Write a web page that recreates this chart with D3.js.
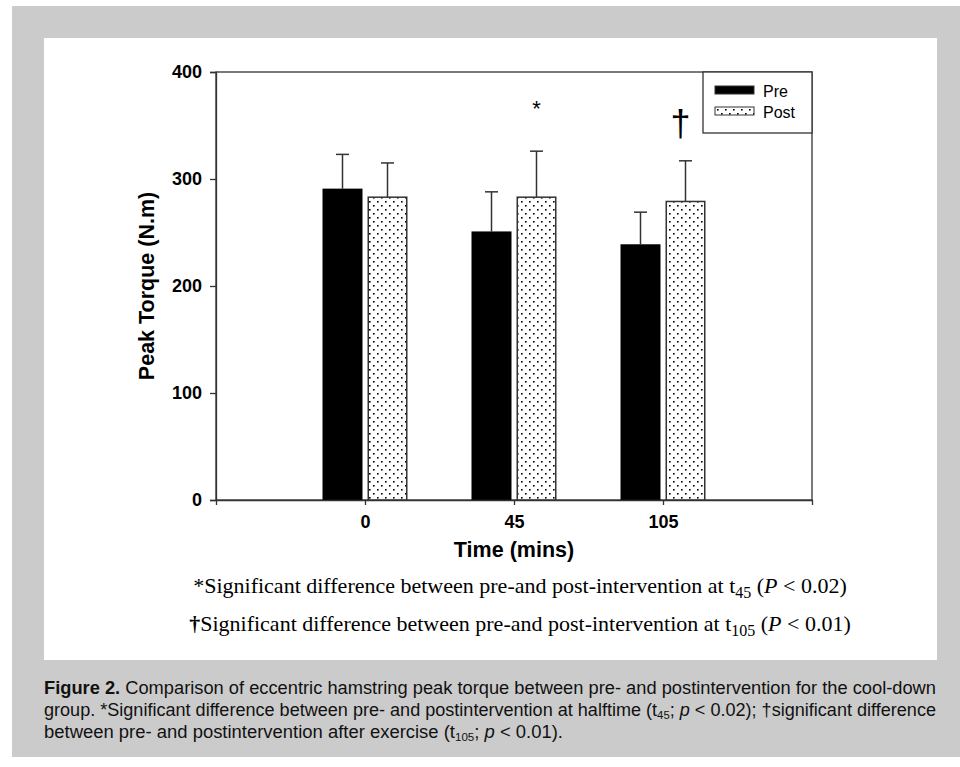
<!DOCTYPE html>
<html>
<head>
<meta charset="utf-8">
<script src="https://cdn.jsdelivr.net/npm/d3@7"></script>
<style>
  html, body { margin: 0; padding: 0; background: #fff; }
  svg { display: block; }
</style>
</head>
<body>
<div id="chart"></div>
<script>
const times = ["0", "45", "105"];
const series = ["Pre", "Post"];
const preMean = [291, 251, 239];
const preSD = [32, 37, 30];
const postMean = [283, 283, 279];
const postSD = [32, 43, 38];
const yTicks = [0, 100, 200, 300, 400];
const marks = [{ time: "45", symbol: "*" }, { time: "105", symbol: "\u2020" }];

const W = 960, H = 767;
const plot = { left: 216, right: 812, top: 72, bottom: 500 };

const svg = d3.select("#chart").append("svg")
  .attr("width", W).attr("height", H);

const defs = svg.append("defs");
const pat = defs.append("pattern")
  .attr("id", "dots")
  .attr("patternUnits", "userSpaceOnUse")
  .attr("width", 8).attr("height", 8);
pat.append("rect").attr("width", 8).attr("height", 8).attr("fill", "#fff");
pat.append("rect").attr("x", 1).attr("y", 1).attr("width", 1.6).attr("height", 1.6).attr("fill", "#000");
pat.append("rect").attr("x", 5).attr("y", 5).attr("width", 1.6).attr("height", 1.6).attr("fill", "#000");

// grey frame and white panel
svg.append("rect").attr("x", 12).attr("y", 6).attr("width", 948).attr("height", 751).attr("fill", "#cbcbcb");
svg.append("rect").attr("x", 44).attr("y", 38).attr("width", 893).attr("height", 622).attr("fill", "#fff");

const x = d3.scalePoint().domain(times).range([plot.left, plot.right]).padding(1);
const y = d3.scaleLinear().domain([0, 400]).range([plot.bottom, plot.top]);

const barW = 40, off = 22.5;
const rows = times.map((t, i) => ({ t, pre: preMean[i], preSD: preSD[i], post: postMean[i], postSD: postSD[i] }));

const g = svg.append("g");
const sans = "'Liberation Sans', Arial, sans-serif";

// plot box
g.append("rect")
  .attr("x", plot.left).attr("y", plot.top)
  .attr("width", plot.right - plot.left).attr("height", plot.bottom - plot.top)
  .attr("fill", "none").attr("stroke", "#333").attr("stroke-width", 1.3);

// error bars (drawn under bars)
function errBar(cx, m, sd) {
  g.append("line").attr("x1", cx).attr("x2", cx).attr("y1", y(m)).attr("y2", y(m + sd))
    .attr("stroke", "#333").attr("stroke-width", 1.5);
  g.append("line").attr("x1", cx - 6.5).attr("x2", cx + 6.5).attr("y1", y(m + sd)).attr("y2", y(m + sd))
    .attr("stroke", "#333").attr("stroke-width", 1.5);
}
rows.forEach(d => {
  errBar(x(d.t) - off, d.pre, d.preSD);
  errBar(x(d.t) + off, d.post, d.postSD);
});

g.selectAll(".pre").data(rows).join("rect")
  .attr("x", d => x(d.t) - off - barW / 2)
  .attr("y", d => y(d.pre))
  .attr("width", barW)
  .attr("height", d => y(0) - y(d.pre))
  .attr("fill", "#000");

g.selectAll(".post").data(rows).join("rect")
  .attr("x", d => x(d.t) + off - barW / 2 + 0.75)
  .attr("y", d => y(d.post))
  .attr("width", barW - 1.5)
  .attr("height", d => y(0) - y(d.post))
  .attr("fill", "url(#dots)")
  .attr("stroke", "#333").attr("stroke-width", 1.5);

// axes
const yAxis = g.append("g").attr("transform", `translate(${plot.left},0)`)
  .call(d3.axisLeft(y).tickValues(yTicks).tickSize(6).tickPadding(8));
const xAxis = g.append("g").attr("transform", `translate(0,${plot.bottom})`)
  .call(d3.axisBottom(x).tickSize(5).tickPadding(10));
[yAxis, xAxis].forEach(a => {
  a.select(".domain").attr("stroke", "#333").attr("stroke-width", 1.3);
  a.selectAll(".tick line").attr("stroke", "#333").attr("stroke-width", 1.3);
  a.selectAll("text").attr("fill", "#000")
    .style("font-family", sans)
    .style("font-weight", "bold").style("font-size", "18px");
});

g.append("text")
  .attr("transform", `translate(154,${(plot.top + plot.bottom) / 2}) rotate(-90)`)
  .attr("text-anchor", "middle")
  .style("font-family", sans)
  .style("font-weight", "bold").style("font-size", "21.5px")
  .text("Peak Torque (N.m)");

g.append("text")
  .attr("x", (plot.left + plot.right) / 2).attr("y", 557)
  .attr("text-anchor", "middle")
  .style("font-family", sans)
  .style("font-weight", "bold").style("font-size", "21.5px")
  .text("Time (mins)");

// significance marks
g.selectAll(".mark").data(marks).join("text")
  .attr("x", d => x(d.time) + off - (d.symbol === "*" ? 0 : 5))
  .attr("y", d => d.symbol === "*" ? 116 : 136)
  .attr("text-anchor", "middle")
  .style("font-family", sans)
  .style("font-size", d => d.symbol === "*" ? "22px" : "36px")
  .text(d => d.symbol);

// legend
const leg = g.append("g");
leg.append("rect").attr("x", 703).attr("y", plot.top).attr("width", plot.right - 703).attr("height", 61)
  .attr("fill", "#fff").attr("stroke", "#333").attr("stroke-width", 1.3);
series.forEach((s, i) => {
  leg.append("rect")
    .attr("x", 715).attr("y", 86 + i * 21).attr("width", 39).attr("height", 8)
    .attr("fill", i === 0 ? "#000" : "url(#dots)")
    .attr("stroke", "#333").attr("stroke-width", 1);
  leg.append("text")
    .attr("x", 763).attr("y", 97 + i * 21)
    .style("font-family", sans)
    .style("font-size", "16px")
    .text(s);
});

// footnotes
const fn = [
  { sym: "*", sub: "45", p: "0.02" },
  { sym: "\u2020", sub: "105", p: "0.01" }
];
fn.forEach((f, i) => {
  const t = g.append("text")
    .attr("x", 520).attr("y", 593 + i * 38)
    .attr("text-anchor", "middle")
    .style("font-family", "'Liberation Serif', 'Times New Roman', serif")
    .style("font-size", "22px");
  t.append("tspan").style("font-weight", i === 1 ? "bold" : "normal").text(f.sym);
  t.append("tspan").text("Significant difference between pre-and post-intervention at t");
  t.append("tspan").attr("dy", 5).style("font-size", "16px").text(f.sub);
  t.append("tspan").attr("dy", -5).text(" (");
  t.append("tspan").style("font-style", "italic").text("P");
  t.append("tspan").text(" < " + f.p + ")");
});

// caption
const cap = svg.append("g")
  .style("font-family", sans)
  .style("font-size", "17.5px").attr("fill", "#111");
const l1 = cap.append("text").attr("x", 44).attr("y", 694).attr("textLength", 892).attr("lengthAdjust", "spacingAndGlyphs");
l1.append("tspan").style("font-weight", "bold").text("Figure 2.");
l1.append("tspan").text(" Comparison of eccentric hamstring peak torque between pre- and postintervention for the cool-down");
const l2 = cap.append("text").attr("x", 44).attr("y", 716).attr("textLength", 892).attr("lengthAdjust", "spacingAndGlyphs");
l2.append("tspan").text("group. *Significant difference between pre- and postintervention at halftime (t");
l2.append("tspan").attr("dy", 3).style("font-size", "11px").text("45");
l2.append("tspan").attr("dy", -3).text("; ");
l2.append("tspan").style("font-style", "italic").text("p");
l2.append("tspan").text(" < 0.02); \u2020significant difference");
const l3 = cap.append("text").attr("x", 44).attr("y", 738).attr("textLength", 519).attr("lengthAdjust", "spacingAndGlyphs");
l3.append("tspan").text("between pre- and postintervention after exercise (t");
l3.append("tspan").attr("dy", 3).style("font-size", "11px").text("105");
l3.append("tspan").attr("dy", -3).text("; ");
l3.append("tspan").style("font-style", "italic").text("p");
l3.append("tspan").text(" < 0.01).");
</script>
</body>
</html>
